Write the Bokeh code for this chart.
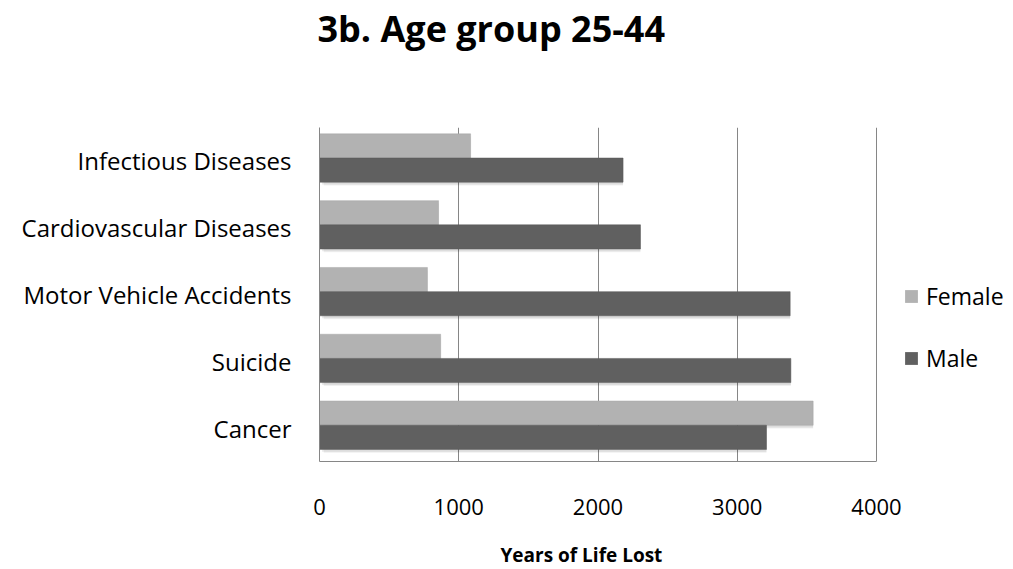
from bokeh.plotting import figure
from bokeh.models import ColumnDataSource, FactorRange, Range1d, Legend, LegendItem, FixedTicker, Title
from bokeh.transform import dodge
from bokeh.embed import file_html
from bokeh.resources import INLINE

causes = ["Cancer", "Suicide", "Motor Vehicle Accidents", "Cardiovascular Diseases", "Infectious Diseases"]
female = [3545, 870, 775, 855, 1085]
male = [3210, 3385, 3380, 2305, 2180]
x_ticks = [0, 1000, 2000, 3000, 4000]

FONT = "Open Sans"
W, H = 1005, 569
LEFT, TOP, RIGHT_4000, BOTTOM = 319, 127, 876, 461
x_end = 4000 * (W - LEFT) / (RIGHT_4000 - LEFT)

src = ColumnDataSource(dict(cause=causes, female=female, male=male))

p = figure(width=W, height=H, y_range=FactorRange(*causes), x_range=Range1d(0, x_end),
           output_backend="svg", toolbar_location=None,
           min_border_left=LEFT, min_border_right=0, min_border_top=TOP, min_border_bottom=H - BOTTOM)
p.outline_line_color = None
p.background_fill_color = "white"

F_OFF, M_OFF, BH = 0.224, -0.138, 0.362

# soft shadows
for dx, dy, a in [(30, -0.05, 0.06), (18, -0.035, 0.08)]:
    p.hbar(y=dodge("cause", F_OFF + dy, range=p.y_range), right="female", left=dx, height=BH,
           source=src, fill_color="#000000", fill_alpha=a, line_color=None)
    p.hbar(y=dodge("cause", M_OFF + dy, range=p.y_range), right="male", left=dx, height=BH,
           source=src, fill_color="#000000", fill_alpha=a, line_color=None)

p.hbar(y=dodge("cause", F_OFF, range=p.y_range), right="female", left=0, height=BH,
       source=src, fill_color="#B2B2B2", line_color="#A6A6A6", line_width=0.5)
p.hbar(y=dodge("cause", M_OFF, range=p.y_range), right="male", left=0, height=BH,
       source=src, fill_color="#606060", line_color="#585858", line_width=0.5)

# legend proxies (off-range, invisible)
rf = p.quad(left=[-2000], right=[-1000], bottom=[0.1], top=[0.2], fill_color="#B2B2B2", line_color=None)
rm = p.quad(left=[-2000], right=[-1000], bottom=[0.1], top=[0.2], fill_color="#606060", line_color=None)

p.title = Title(text="3b. Age group 25-44", align="left", text_font=FONT,
                text_font_size="36px", text_font_style="bold", text_color="#000000", offset=-2,
                standoff=0, padding=dict(top=0, bottom=75, left=0, right=0))

p.xaxis.ticker = FixedTicker(ticks=x_ticks)
p.xaxis.bounds = (0, 4000)
p.xaxis.major_label_text_font = FONT
p.xaxis.major_label_text_font_size = "22px"
p.xaxis.major_label_text_color = "#000000"
p.xaxis.major_label_standoff = 31
p.xaxis.major_tick_line_color = None
p.xaxis.minor_tick_line_color = None
p.xaxis.axis_line_color = "#868686"

xlabel = Title(text="Years of Life Lost", align="left", offset=181, text_font=FONT,
               text_font_size="19px", text_font_style="bold", text_color="#000000", standoff=0,
               padding=dict(top=22, bottom=0, left=0, right=0))
p.add_layout(xlabel, "below")

p.yaxis.major_label_text_font = FONT
p.yaxis.major_label_text_font_size = "24px"
p.yaxis.major_label_text_color = "#000000"
p.yaxis.major_label_standoff = 22
p.yaxis.major_tick_line_color = None
p.yaxis.axis_line_color = "#868686"
p.ygrid.grid_line_color = None
p.xgrid.grid_line_color = "#868686"
p.xgrid.grid_line_width = 1

legend = Legend(items=[LegendItem(label="Female", renderers=[rf]),
                       LegendItem(label="Male", renderers=[rm])],
                location=(584, 87), label_text_font=FONT, label_text_font_size="23px",
                label_text_color="#000000",
                glyph_width=16, glyph_height=16, spacing=30, border_line_color=None,
                background_fill_alpha=0, label_standoff=7, padding=0, margin=0)
p.add_layout(legend, "center")

open("out.html", "w").write(file_html(p, INLINE))
